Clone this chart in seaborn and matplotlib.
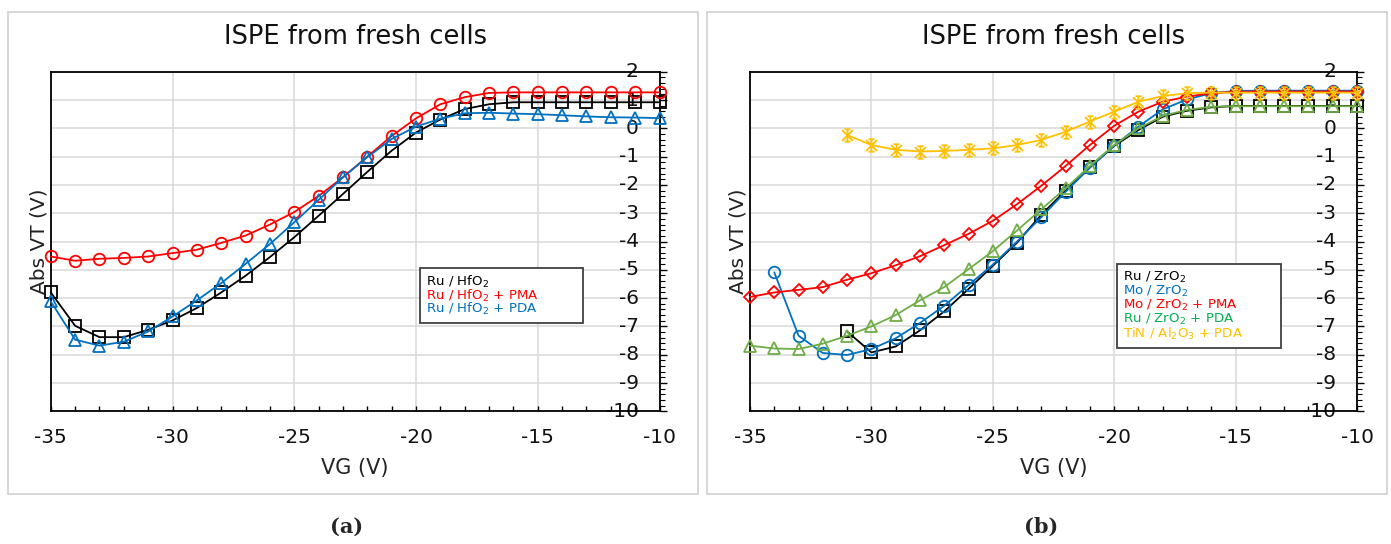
import numpy as np
import matplotlib
matplotlib.use("Agg")
import matplotlib.pyplot as plt
import seaborn as sns
from matplotlib.ticker import MultipleLocator
from matplotlib.path import Path
from matplotlib.lines import Line2D
from matplotlib.patches import Rectangle

# ---------------- data ----------------
VG = list(range(-35, -9))
nan = np.nan

# panel (a)
ru_hfo2 = [-5.80, -6.98, -7.38, -7.38, -7.12, -6.79, -6.35, -5.80, -5.21, -4.55, -3.85, -3.09, -2.32,
           -1.54, -0.79, -0.15, 0.31, 0.68, 0.85, 0.92, 0.92, 0.92, 0.92, 0.92, 0.92, 0.92]
ru_hfo2_pma = [-4.53, -4.68, -4.61, -4.58, -4.53, -4.41, -4.29, -4.05, -3.79, -3.40, -2.96, -2.39, -1.73,
               -1.00, -0.27, 0.35, 0.85, 1.10, 1.25, 1.27, 1.27, 1.27, 1.27, 1.27, 1.27, 1.27]
ru_hfo2_pda = [-6.12, -7.47, -7.68, -7.54, -7.18, -6.65, -6.08, -5.47, -4.79, -4.09, -3.32, -2.53, -1.73,
               -1.02, -0.38, 0.06, 0.34, 0.53, 0.55, 0.52, 0.50, 0.46, 0.42, 0.39, 0.38, 0.36]
labels_a = ["Ru / HfO$_2$", "Ru / HfO$_2$ + PMA", "Ru / HfO$_2$ + PDA"]

# panel (b)
ru_zro2 = [nan, nan, nan, nan, -7.18, -7.92, -7.71, -7.14, -6.47, -5.68, -4.86, -4.04, -3.05,
           -2.20, -1.38, -0.62, -0.06, 0.41, 0.62, 0.74, 0.79, 0.79, 0.79, 0.79, 0.79, 0.79]
mo_zro2 = [nan, -5.09, -7.33, -7.94, -8.01, -7.80, -7.42, -6.88, -6.27, -5.54, -4.82, -4.00, -3.14,
           -2.24, -1.39, -0.61, 0.06, 0.67, 1.02, 1.24, 1.32, 1.33, 1.33, 1.33, 1.33, 1.33]
mo_zro2_pma = [-5.96, -5.80, -5.71, -5.61, -5.35, -5.12, -4.84, -4.52, -4.13, -3.73, -3.27, -2.68, -2.03,
               -1.33, -0.59, 0.09, 0.59, 0.94, 1.12, 1.24, 1.29, 1.30, 1.30, 1.30, 1.30, 1.30]
ru_zro2_pda = [-7.68, -7.78, -7.80, -7.61, -7.33, -7.00, -6.60, -6.08, -5.61, -4.98, -4.34, -3.61, -2.86,
               -2.12, -1.33, -0.59, 0.00, 0.44, 0.65, 0.76, 0.78, 0.78, 0.78, 0.78, 0.78, 0.78]
tin_al2o3_pda = [nan, nan, nan, nan, -0.24, -0.59, -0.76, -0.82, -0.80, -0.76, -0.71, -0.59, -0.41,
                 -0.12, 0.24, 0.59, 0.94, 1.14, 1.24, 1.26, 1.26, 1.26, 1.26, 1.26, 1.26, 1.26]
labels_b = ["Ru / ZrO$_2$", "Mo / ZrO$_2$", "Mo / ZrO$_2$ + PMA", "Ru / ZrO$_2$ + PDA",
            "TiN / Al$_2$O$_3$ + PDA"]

x_ticks = [-35, -30, -25, -20, -15, -10]
y_ticks = list(range(-10, 3))

# ---------------- style ----------------
sns.set_style("white")
plt.rcParams["font.family"] = ["DejaVu Sans"]
plt.rcParams["axes.unicode_minus"] = False

BLACK = "#000000"
RED = "#FF0000"
BLUE = "#0070C0"
GREEN = "#70AD47"
YELLOW = "#FFC000"

star = Path([(-1, -1), (1, 1), (-1, 1), (1, -1), (0, -1.15), (0, 1.15),
             (-0.55, 1.15), (0.55, 1.15), (-0.55, -1.15), (0.55, -1.15)],
            [Path.MOVETO, Path.LINETO] * 5)

fig = plt.figure(figsize=(13.91, 5.44), dpi=100)

# panel frames
for x0, w in [(8 / 1391, 690 / 1391), (707 / 1391, 680 / 1391)]:
    fig.patches.append(Rectangle((x0, 1 - 494 / 544), w, (494 - 11.7) / 544,
                                 transform=fig.transFigure, fill=False,
                                 edgecolor="#d0d0d0", linewidth=1.2))

axA = fig.add_axes([50.8 / 1391, 1 - 411.3 / 544, 608.7 / 1391, 339.6 / 544])
axB = fig.add_axes([750 / 1391, 1 - 411.3 / 544, 607 / 1391, 339.6 / 544])

vg = np.array(VG, dtype=float)


def draw_series(ax, vals, color, marker, ms=8.3):
    v = np.array(vals, dtype=float)
    m = ~np.isnan(v)
    sns.lineplot(x=vg[m], y=v[m], ax=ax, color=color, marker=marker, markersize=ms,
                 markerfacecolor="none", markeredgecolor=color, markeredgewidth=1.3,
                 linewidth=1.3, estimator=None, sort=False, clip_on=False, zorder=3,
                 legend=False)


def style_axes(ax, title):
    ax.set_xlim(-35, -10)
    ax.set_ylim(-10, 2)
    ax.set_xticks(x_ticks)
    ax.xaxis.set_minor_locator(MultipleLocator(1))
    ax.set_yticks(y_ticks)
    ax.yaxis.set_minor_locator(MultipleLocator(0.2))
    ax.set_axisbelow(True)
    ax.grid(True, which="major", color="#d9d9d9", linewidth=1.1)
    for s in ax.spines.values():
        s.set_visible(True)
        s.set_color("black")
        s.set_linewidth(1.3)
    ax.tick_params(axis="x", which="both", direction="in", length=3.6, width=1.0,
                   bottom=True, top=False, color="black")
    ax.tick_params(axis="x", which="major", labelsize=14.5, pad=12, labelcolor="#111111")
    ax.tick_params(axis="y", which="both", left=False, right=True, labelleft=False,
                   labelright=False, direction="out", color="black")
    ax.tick_params(axis="y", which="major", length=5, width=1.0)
    ax.tick_params(axis="y", which="minor", length=3.5, width=0.8)
    # y tick labels sit inside the plot, left of the right-hand axis line (x = -10)
    x_lab = ax.get_xlim()[1] - 0.85
    for v in y_ticks:
        ax.text(x_lab, v, f"{v}", ha="right", va="center", fontsize=14.5,
                color="#111111", zorder=1.6)
    ax.set_xlabel("VG (V)", fontsize=15, color="#222222")
    ax.xaxis.set_label_coords(0.5, -0.168)
    ax.xaxis.label.set_verticalalignment("center")
    ax.yaxis.set_label_position("left")
    ax.set_ylabel("Abs VT (V)", fontsize=14.5, color="#222222", labelpad=2)
    ax.text(0.5, 1.102, title, transform=ax.transAxes, ha="center", va="center",
            fontsize=18.5, color="#111111")


def text_legend(ax, labels, colors, bbox, spacing):
    handles = [Line2D([], [], linestyle="none") for _ in labels]
    leg = ax.legend(handles, labels, loc="upper left", bbox_to_anchor=bbox, mode="expand",
                    borderaxespad=0, handlelength=0, handletextpad=0, fontsize=9.6,
                    labelcolor=colors, frameon=True, fancybox=False, framealpha=1,
                    edgecolor="#404040", labelspacing=spacing, borderpad=0.45)
    leg.get_frame().set_linewidth(1.3)
    leg.set_zorder(5)


# panel (a)
draw_series(axA, ru_hfo2, BLACK, "s")
draw_series(axA, ru_hfo2_pma, RED, "o")
draw_series(axA, ru_hfo2_pda, BLUE, "^")
style_axes(axA, "ISPE from fresh cells")
text_legend(axA, labels_a, [BLACK, RED, BLUE], (0.6064, 0.421, 0.268, 0.0), -0.2)

# panel (b)
draw_series(axB, ru_zro2, BLACK, "s")
draw_series(axB, mo_zro2, BLUE, "o")
draw_series(axB, mo_zro2_pma, RED, "D", ms=6.5)
draw_series(axB, ru_zro2_pda, GREEN, "^")
draw_series(axB, tin_al2o3_pda, YELLOW, star, ms=9)
style_axes(axB, "ISPE from fresh cells")
text_legend(axB, labels_b, [BLACK, BLUE, RED, "#00B050", YELLOW],
            (0.604, 0.4333, 0.2708, 0.0), -0.08)

fig.text(347 / 1391, 1 - 527 / 544, "(a)", ha="center", va="center", fontsize=15,
         family=["DejaVu Serif"], fontweight="bold")
fig.text(1041 / 1391, 1 - 527 / 544, "(b)", ha="center", va="center", fontsize=15,
         family=["DejaVu Serif"], fontweight="bold")

fig.savefig("out.png", dpi=100)
